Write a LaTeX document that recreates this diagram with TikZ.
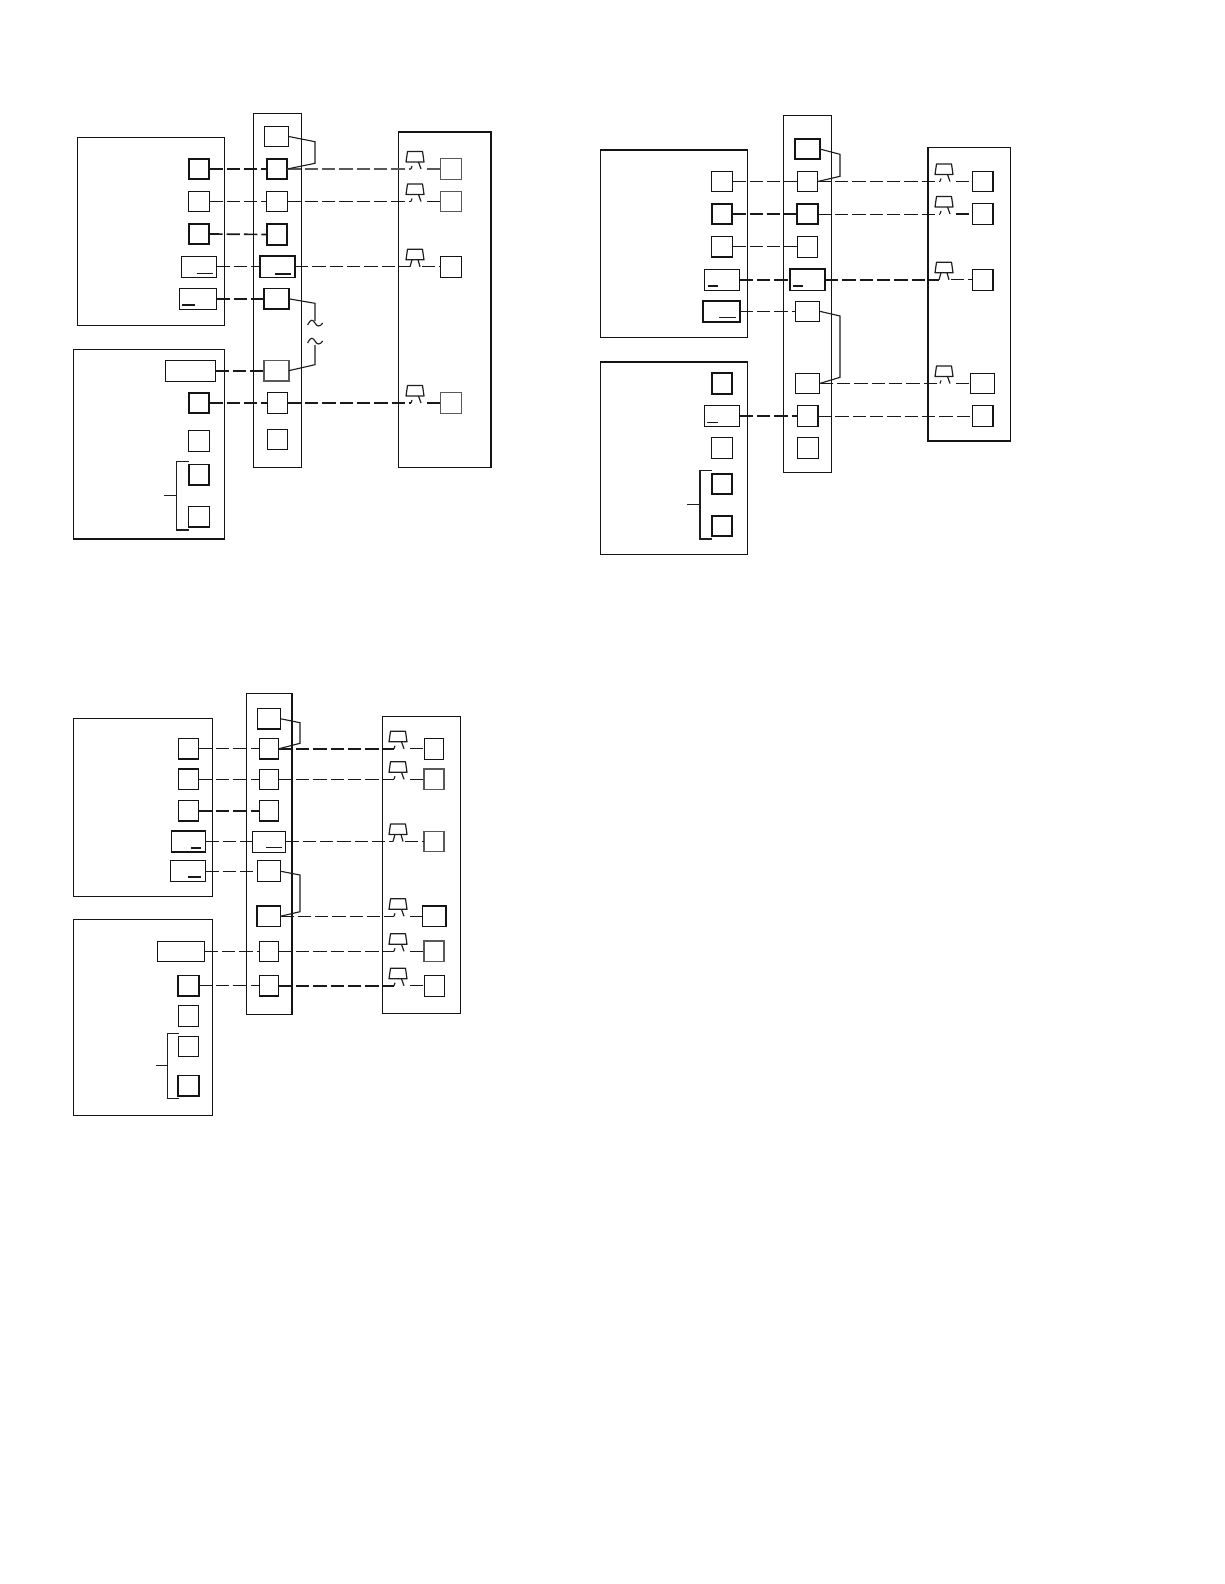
\documentclass[tikz,border=0pt]{standalone}
\tikzset{
  x=0.75pt,y=-0.75pt,
  every node/.style={inner sep=0pt,outer sep=0pt},
  ink/.style={draw=black!92,line width=0.8pt},
  lt/.style={line width=0.55pt},
  hv/.style={line width=1.25pt},
  gr/.style={draw=black!65,line width=1pt},
  sq/.style={ink,minimum width=15.4pt,minimum height=15.4pt},
  sqj/.style={ink,minimum width=18.3pt,minimum height=15.4pt},
  wd/.style={ink,minimum width=26.4pt,minimum height=15.8pt},
  wdl/.style={ink,minimum width=27.8pt,minimum height=15.8pt},
  lng/.style={ink,minimum width=37.5pt,minimum height=15.6pt},
  lngb/.style={ink,minimum width=35.5pt,minimum height=15.6pt},
  wire/.style={draw=black!90,line width=0.8pt,dash pattern=on 10pt off 3pt},
  jump/.style={draw=black!88,line width=0.85pt},
  uline/.style={draw=black!90,line width=0.6pt},
  lampst/.style={draw=black!88,line width=0.9pt,line join=round},
}
% \bx{name}{x1}{y1}{x2}{y2}{style}
\newcommand\bx[6]{\node[ink,#6,minimum width={(#4-#2)*0.75pt},minimum height={(#5-#3)*0.75pt}] (#1) at ({(#2+#4)/2},{(#3+#5)/2}) {};}
% \lampa{name}{cx}{y}: one leg and a hook
\newcommand\lampa[3]{%
  \coordinate (#1-l) at (#2-4,#3);
  \coordinate (#1-r) at (#2+12,#3);
  \draw[lampst] (#2-7.5,#3-17.5) -- (#2+7.5,#3-17.5) -- (#2+9,#3-7) -- (#2-9,#3-7) -- cycle;
  \draw[lampst] (#2+3.5,#3-7) -- (#2+6,#3);
  \draw[lampst] (#2-4,#3) -- (#2-3,#3-3);
}
% \lampb{name}{cx}{y}: two legs
\newcommand\lampb[3]{%
  \coordinate (#1-l) at (#2-5,#3);
  \coordinate (#1-r) at (#2+7,#3);
  \draw[lampst] (#2-7.5,#3-17.5) -- (#2+7.5,#3-17.5) -- (#2+9,#3-7) -- (#2-9,#3-7) -- cycle;
  \draw[lampst] (#2-3,#3-7) -- (#2-5,#3);
  \draw[lampst] (#2+3,#3-7) -- (#2+5,#3);
}
\begin{document}
\begin{tikzpicture}
\path[use as bounding box,fill=white] (0,0) rectangle (1224,1584);

%%% PANEL 1
\bx{aA}{77.3}{137.3}{224.3}{325.3}{lt}
\bx{aB}{73.3}{349.3}{224.3}{539}{}
\bx{aC}{253.3}{113.3}{301.3}{467.7}{}
\bx{aD}{398.7}{132}{491}{467.7}{line width=0.95pt}
\node[sq,hv] (al1) at (199,169) {};
\node[sq] (al2) at (199,201.5) {};
\node[sq,hv] (al3) at (199,234) {};
\node[wd,lt] (al4) at (199,266.8) {};
\node[wdl,lt] (al5) at (198,298.8) {};
\node[lng,line width=0.9pt] (al6) at (190.3,370.7) {};
\node[sq,hv] (al7) at (199,403) {};
\node[sq] (al8) at (199,441.2) {};
\node[sq,hv] (al9) at (199,474.7) {};
\node[sq,line width=1pt] (al10) at (199,516.7) {};
\node[sqj] (am0) at (276.5,136.5) {};
\node[sq,hv] (am1) at (277,169) {};
\node[sq] (am2) at (277,201.5) {};
\node[sq,hv] (am3) at (277,234.5) {};
\node[wd,hv] (am4) at (277.3,266.8) {};
\node[sqj,hv] (am5) at (276.5,298.8) {};
\node[sqj,gr,hv] (am6) at (276.5,370.7) {};
\node[sq] (am7) at (277.5,403) {};
\node[sq] (am8) at (277.5,439.3) {};
\lampa{aq1}{415}{169}
\lampa{aq2}{415}{201.5}
\lampb{aq3}{415}{266.8}
\lampa{aq4}{415}{403}
\node[sq,gr] (ar1) at (451,169) {};
\node[sq,gr] (ar2) at (451,201.5) {};
\node[sq] (ar3) at (451,266.8) {};
\node[sq,gr] (ar4) at (451,403) {};
\draw[wire,hv] (al1.east) -- (am1.west);
\draw[wire,lt] (al2.east) -- (am2.west);
\draw[wire,hv] (al3.east) -- (am3.west);
\draw[wire,lt] (al4.east) -- (am4.west);
\draw[wire,hv] (al5.east) -- (am5.west);
\draw[wire,hv] (al6.east) -- (am6.west);
\draw[wire,hv] (al7.east) -- (am7.west);
\draw[wire,gr,line width=1.1pt] (am1.east) -- (aq1-l);
\draw[wire,line width=1pt] (am2.east) -- (aq2-l);
\draw[wire] (am4.east) -- (aq3-l);
\draw[wire] (am7.east) -- (aq4-l);
\draw[wire,gr,line width=1.1pt] (aq1-r) -- (ar1.west);
\draw[wire] (aq2-r) -- (ar2.west);
\draw[wire] (aq3-r) -- (ar3.west);
\draw[wire] (aq4-r) -- (ar4.west);
\coordinate (at1) at (315,321);
\coordinate (at2) at (315,345);
\draw[jump] (am0.east) -- (315,141.7) -- (315,163.3) -- (am1.east);
\draw[jump] (am5.east) -- (315,303.3) -- (at1);
\draw[jump] (at2) -- (315,364.7) -- (am6.east);
\draw[jump] (307.7,325) .. controls (311,318) and (313,320) .. (315,323) .. controls (317,327) and (320,327) .. (322.7,323);
\draw[jump] (307.7,343) .. controls (311,336) and (313,338) .. (315,341) .. controls (317,345) and (320,345) .. (322.7,341);
\draw[jump] (164.3,495.7) -- (176.7,495.7);
\draw[jump] (189,461.7) -- (176.7,461.7) -- (176.7,530) -- (189,530);
\draw[uline] (196.7,273.3) -- (212.7,273.3);
\draw[uline,hv] (275,273.7) -- (290.7,273.7);
\draw[uline,hv] (182,304.7) -- (195,304.7);

%%% PANEL 2
\bx{bA}{600.7}{150}{747.3}{337.7}{line width=1pt}
\bx{bB}{600.7}{362}{747.3}{554.7}{line width=1pt}
\bx{bC}{783.3}{115.3}{831.3}{472.7}{}
\bx{bD}{928}{147.7}{1010.3}{441}{line width=0.95pt}
\node[sq] (bl1) at (722,181.5) {};
\node[sq,hv] (bl2) at (722,214) {};
\node[sq,line width=1pt] (bl3) at (722,246.7) {};
\node[wd] (bl4) at (722,279.8) {};
\node[wdl,hv] (bl5) at (721.2,311.3) {};
\node[sq,hv] (bl6) at (722,383.5) {};
\node[wd,lt] (bl7) at (722,416) {};
\node[sq] (bl8) at (722,447.8) {};
\node[sq,hv] (bl9) at (722,484) {};
\node[sq,hv] (bl10) at (722,526) {};
\node[sqj,hv] (bm0) at (807.5,149) {};
\node[sq] (bm1) at (807.5,181.5) {};
\node[sq,hv] (bm2) at (807.5,214) {};
\node[sq,lt] (bm3) at (807.5,246.7) {};
\node[wd,hv] (bm4) at (807.5,279.8) {};
\node[sqj] (bm5) at (807.5,311.3) {};
\node[sqj] (bm6) at (807.5,383.5) {};
\node[sq,line width=1pt] (bm7) at (807.8,416) {};
\node[sq] (bm8) at (807.8,447.8) {};
\lampa{bq1}{944}{181.5}
\lampa{bq2}{944}{214}
\lampb{bq3}{944}{279.8}
\lampa{bq4}{944}{383.5}
\node[sq,line width=1pt] (br1) at (982.7,181.5) {};
\node[sq,line width=1pt] (br2) at (982.7,214) {};
\node[sq] (br3) at (982.7,279.8) {};
\node[sqj,line width=1pt] (br4) at (982.5,383.5) {};
\node[sq] (br5) at (982.7,416) {};
\draw[wire,lt] (bl1.east) -- (bm1.west);
\draw[wire,hv] (bl2.east) -- (bm2.west);
\draw[wire,lt] (bl3.east) -- (bm3.west);
\draw[wire,hv] (bl4.east) -- (bm4.west);
\draw[wire,lt] (bl5.east) -- (bm5.west);
\draw[wire,hv] (bl7.east) -- (bm7.west);
\draw[wire,line width=1pt] (bm1.east) -- (bq1-l);
\draw[wire,lt] (bm2.east) -- (bq2-l);
\draw[wire,line width=1.1pt] (bm4.east) -- (bq3-l);
\draw[wire] (bm6.east) -- (bq4-l);
\draw[wire,lt] (bm7.east) -- (br5.west);
\draw[wire] (bq1-r) -- (br1.west);
\draw[wire] (bq2-r) -- (br2.west);
\draw[wire] (bq3-r) -- (br3.west);
\draw[wire] (bq4-r) -- (br4.west);
\draw[jump] (bm0.east) -- (840,154.3) -- (840,176.3) -- (bm1.east);
\draw[jump] (bm5.east) -- (840,316) -- (840,377.3) -- (bm6.east);
\draw[jump,line width=1pt] (687.3,504.7) -- (700,504.7);
\draw[jump,line width=1pt] (712.3,470.7) -- (700,470.7) -- (700,539) -- (712.3,539);
\draw[uline,hv] (708.3,285.7) -- (718.3,285.7);
\draw[uline,hv] (793,285.7) -- (803,285.7);
\draw[uline] (719,317.3) -- (736,317.3);
\draw[uline] (707.3,422.3) -- (718,422.3);

%%% PANEL 3
\bx{cA}{73.7}{718.7}{212.7}{896.3}{lt}
\bx{cB}{73.7}{919}{212.7}{1115.3}{lt}
\bx{cC}{246.3}{693.7}{292}{1014.3}{line width=1.1pt}
\bx{cD}{382.7}{716.3}{460.7}{1013.3}{line width=0.95pt}
\node[sq,line width=1pt] (cl1) at (188.5,748.8) {};
\node[sq,line width=0.9pt] (cl2) at (188.5,779.3) {};
\node[sq,line width=1pt] (cl3) at (188.5,810.7) {};
\node[wd,minimum width=25.2pt,line width=1pt] (cl4) at (188.5,841.5) {};
\node[wd,line width=1pt] (cl5) at (187.8,871.2) {};
\node[lngb,lt] (cl6) at (181,951.3) {};
\node[sq,hv] (cl7) at (188.5,985.8) {};
\node[sq] (cl8) at (188.5,1016) {};
\node[sq,lt] (cl9) at (188.5,1046.3) {};
\node[sq,hv] (cl10) at (188.5,1085.8) {};
\node[sqj,minimum width=17.3pt] (cm0) at (268.8,718.7) {};
\node[sq,minimum width=14.6pt,line width=0.9pt] (cm1) at (269,748.8) {};
\node[sq,minimum width=14.6pt] (cm2) at (269,779.3) {};
\node[sq,minimum width=14.6pt] (cm3) at (269,810.7) {};
\node[wd,minimum width=24.5pt,lt] (cm4) at (269,841.5) {};
\node[sqj,minimum width=17.3pt] (cm5) at (268.8,871.2) {};
\node[sqj,minimum width=17.3pt,hv] (cm6) at (268.8,916.3) {};
\node[sq,minimum width=14.6pt,lt] (cm7) at (269,951.3) {};
\node[sq,minimum width=14.6pt,line width=1pt] (cm8) at (269,985.8) {};
\lampa{cq1}{398}{748.8}
\lampa{cq2}{398}{779.3}
\lampb{cq3}{398}{841.5}
\lampa{cq4}{398}{916.3}
\lampa{cq5}{398}{951.3}
\lampa{cq6}{398}{985.8}
\node[sq,minimum width=14.8pt] (cr1) at (434,748.8) {};
\node[sq,minimum width=14.8pt,gr] (cr2) at (434,779.3) {};
\node[sq,minimum width=14.8pt,gr] (cr3) at (434,841.5) {};
\node[sqj,minimum width=17.5pt,hv] (cr4) at (434,916.3) {};
\node[sq,minimum width=14.8pt,gr] (cr5) at (434,951.3) {};
\node[sq,minimum width=14.8pt,lt] (cr6) at (434,985.8) {};
\draw[wire,lt] (cl1.east) -- (cm1.west);
\draw[wire,lt] (cl2.east) -- (cm2.west);
\draw[wire,hv] (cl3.east) -- (cm3.west);
\draw[wire,lt] (cl4.east) -- (cm4.west);
\draw[wire,lt] (cl5.east) -- (cm5.west);
\draw[wire] (cl6.east) -- (cm7.west);
\draw[wire] (cl7.east) -- (cm8.west);
\draw[wire,line width=1.1pt] (cm1.east) -- (cq1-l);
\draw[wire,line width=1pt] (cm2.east) -- (cq2-l);
\draw[wire,line width=1.1pt] (cm4.east) -- (cq3-l);
\draw[wire,lt] (cm6.east) -- (cq4-l);
\draw[wire] (cm7.east) -- (cq5-l);
\draw[wire,line width=1.1pt] (cm8.east) -- (cq6-l);
\draw[wire] (cq1-r) -- (cr1.west);
\draw[wire] (cq2-r) -- (cr2.west);
\draw[wire] (cq3-r) -- (cr3.west);
\draw[wire,lt] (cq4-r) -- (cr4.west);
\draw[wire] (cq5-r) -- (cr5.west);
\draw[wire] (cq6-r) -- (cr6.west);
\draw[jump] (cm0.east) -- (300,722.7) -- (300,743.3) -- (cm1.east);
\draw[jump] (cm5.east) -- (300,875) -- (300,911.7) -- (cm6.east);
\draw[jump,lt] (155.7,1065.3) -- (167.7,1065.3);
\draw[jump,lt] (179,1033.3) -- (167.7,1033.3) -- (167.7,1098) -- (179,1098);
\draw[uline,hv] (191,847.7) -- (201,847.7);
\draw[uline] (266.3,847.3) -- (282,847.3);
\draw[uline,hv] (188.3,876.7) -- (201,876.7);
\end{tikzpicture}
\end{document}
